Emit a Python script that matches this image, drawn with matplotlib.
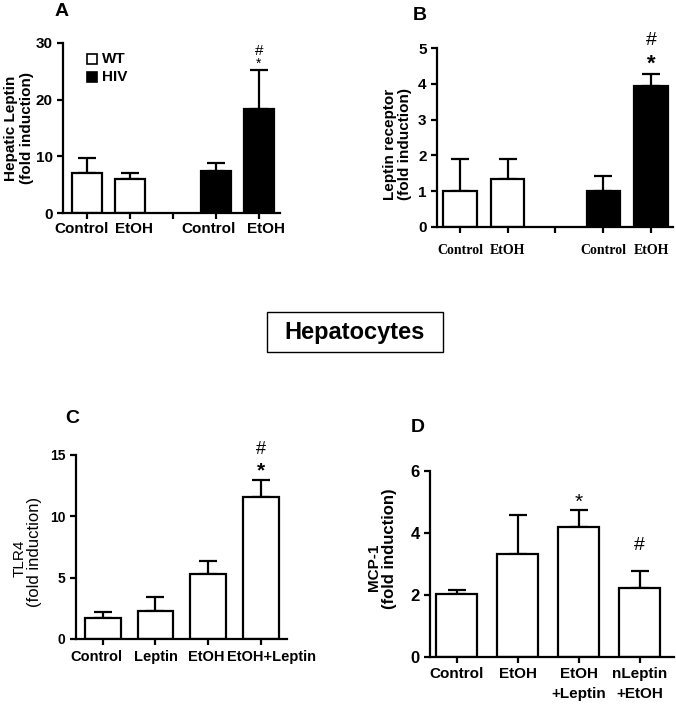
"""
Vier Balkendiagramme (A-D) mit Fehlerbalken, Leptin / Hepatozyten.
"""
import numpy as np
import matplotlib
matplotlib.use("Agg")
from matplotlib import pyplot as plt
from matplotlib.patches import Rectangle
from matplotlib.transforms import blended_transform_factory

plt.rcParams["font.family"] = ["Liberation Sans", "DejaVu Sans"]

# Panel A: Hepatic Leptin
a_labels = ["Control", "EtOH", "Control", "EtOH"]
a_wt_mean = [7.0, 6.0]
a_wt_sem = [2.65, 1.0]
a_hiv_mean = [7.5, 18.3]
a_hiv_sem = [1.3, 6.9]

# Panel B: Leptin receptor
b_labels = ["Control", "EtOH", "", "Control", "EtOH"]
b_wt_mean = [1.0, 1.33]
b_wt_sem = [0.9, 0.57]
b_hiv_mean = [1.0, 3.95]
b_hiv_sem = [0.42, 0.33]

# Panel C: TLR4
c_labels = ["Control", "Leptin", "EtOH", "EtOH+Leptin"]
c_mean = [1.68, 2.3, 5.29, 11.61]
c_sem = [0.52, 1.09, 1.03, 1.38]

# Panel D: MCP-1
d_labels = ["Control", "EtOH", "EtOH\n+Leptin", "nLeptin\n+EtOH"]
d_mean = [2.02, 3.31, 4.18, 2.24]
d_sem = [0.15, 1.27, 0.56, 0.54]

LW = 1.6
W, H = 676, 704


def px_ax(fig, x0, y_bot, x1, y_top):
    """Achse aus Pixelkoordinaten (y von oben gemessen)."""
    return fig.add_axes([x0 / W, (H - y_bot) / H, (x1 - x0) / W, (y_bot - y_top) / H])


def px_text(fig, xp, yp, txt, **kw):
    """Text an Pixelposition (Mitte) in der Abbildung."""
    return fig.text(xp / W, 1 - yp / H, txt, ha="center", va="center", **kw)


def style(ax, ylim, yticks, tsize):
    ax.set_ylim(*ylim)
    ax.set_yticks(yticks)
    for s in ["top", "right"]:
        ax.spines[s].set_visible(False)
    for s in ["left", "bottom"]:
        ax.spines[s].set_linewidth(LW)
    ax.tick_params(direction="out", length=4, width=LW, labelsize=tsize)
    for lab in ax.get_yticklabels():
        lab.set_fontweight("bold")


def bars(ax, pos, mean, sem, color, width):
    ax.bar(pos, mean, width, color=color, edgecolor="black", linewidth=LW, zorder=2)
    ax.errorbar(pos, mean, yerr=[np.zeros(len(sem)), sem], fmt="none",
                ecolor="black", elinewidth=LW, capsize=6.5, capthick=LW, zorder=1)


def xlabels(ax, xs, labels, y_off, **kw):
    """Kategoriebeschriftungen unter der x-Achse an freien Positionen."""
    trans = blended_transform_factory(ax.transData, ax.transAxes)
    for xv, lab in zip(xs, labels):
        ax.text(xv, y_off, lab, transform=trans, ha="center", va="top", **kw)


fig = plt.figure(figsize=(W / 100, H / 100), dpi=100)

# ---------------- A ----------------
ax_a = px_ax(fig, 63, 213, 280, 43)
bars(ax_a, [0, 1], a_wt_mean, a_wt_sem, "white", 0.7)
bars(ax_a, [3, 4], a_hiv_mean, a_hiv_sem, "black", 0.7)
ax_a.set_xlim(-0.56, 4.49)
style(ax_a, (0, 30), [0, 10, 20, 30], 11)
ax_a.set_xticks(range(5))
ax_a.set_xticklabels([""] * 5)
xlabels(ax_a, [-0.13, 1.09, 2.83, 4.16], a_labels, -0.055, fontsize=11,
        fontweight="bold")
px_text(fig, 11, 128, "Hepatic Leptin", rotation=90, fontsize=11, fontweight="bold")
px_text(fig, 27, 128, "(fold induction)", rotation=90, fontsize=11, fontweight="bold")
ax_a.text(4, 28.6, "#", ha="center", va="center", fontsize=11)
ax_a.text(4, 26.4, "*", ha="center", va="center", fontsize=10)
ax_a.add_patch(Rectangle((0.0, 26.3), 0.23, 1.8, facecolor="white", edgecolor="black",
                         linewidth=1.2, clip_on=False))
ax_a.add_patch(Rectangle((0.0, 23.1), 0.23, 1.8, facecolor="black", edgecolor="black",
                         linewidth=1.2, clip_on=False))
ax_a.text(0.35, 27.2, "WT", va="center", fontsize=11, fontweight="bold")
ax_a.text(0.35, 24.0, "HIV", va="center", fontsize=11, fontweight="bold")

# ---------------- B ----------------
ax_b = px_ax(fig, 437, 227, 673, 48)
bars(ax_b, [0, 1], b_wt_mean, b_wt_sem, "white", 0.7)
bars(ax_b, [3, 4], b_hiv_mean, b_hiv_sem, "black", 0.7)
ax_b.set_xlim(-0.48, 4.46)
style(ax_b, (0, 5), [0, 1, 2, 3, 4, 5], 11)
ax_b.set_xticks(range(5))
ax_b.set_xticklabels(b_labels, fontweight="bold", fontsize=10, family="Liberation Serif")
ax_b.tick_params(axis="x", pad=8)
px_text(fig, 390, 144, "Leptin receptor", rotation=90, fontsize=11, fontweight="bold")
px_text(fig, 405, 144, "(fold induction)", rotation=90, fontsize=11, fontweight="bold")
ax_b.text(4, 5.2, "#", ha="center", va="center", fontsize=14, clip_on=False)
ax_b.text(4, 4.55, "*", ha="center", va="center", fontsize=16, fontweight="bold")

# ---------------- C ----------------
ax_c = px_ax(fig, 76, 639, 287, 455)
bars(ax_c, range(4), c_mean, c_sem, "white", 0.68)
ax_c.set_xlim(-0.51, 3.5)
style(ax_c, (0, 15), [0, 5, 10, 15], 10)
ax_c.set_xticks(range(4))
ax_c.set_xticklabels([""] * 4)
xlabels(ax_c, [-0.13, 1.0, 1.96, 3.2], c_labels, -0.06, fontsize=10.5,
        fontweight="bold")
px_text(fig, 20, 558, "TLR4", rotation=90, fontsize=11)
px_text(fig, 35, 552, "(fold induction)", rotation=90, fontsize=12)
ax_c.text(3, 15.45, "#", ha="center", va="center", fontsize=13, clip_on=False)
ax_c.text(3, 13.7, "*", ha="center", va="center", fontsize=15, fontweight="bold")

# ---------------- D ----------------
ax_d = px_ax(fig, 430, 657, 674, 471)
bars(ax_d, range(4), d_mean, d_sem, "white", 0.67)
ax_d.set_xlim(-0.44, 3.56)
style(ax_d, (0, 6), [0, 2, 4, 6], 12)
ax_d.set_xticks(range(4))
ax_d.set_xticklabels(d_labels, fontweight="bold", fontsize=11, linespacing=1.5)
px_text(fig, 374, 567, "MCP-1", rotation=90, fontsize=11, fontweight="bold")
px_text(fig, 390, 549, "(fold induction)", rotation=90, fontsize=12,
        fontweight="bold")
ax_d.text(2, 5.0, "*", ha="center", va="center", fontsize=15)
ax_d.text(3, 3.61, "#", ha="center", va="center", fontsize=14)

# Buchstaben und Kasten
for lbl, xp, yp in [("A", 61.5, 11.5), ("B", 419.5, 15.5), ("C", 72.5, 418.5),
                    ("D", 417.5, 427.5)]:
    px_text(fig, xp, yp, lbl, fontsize=14, fontweight="bold")

fig.patches.append(Rectangle((267 / W, 1 - 352 / H), 176 / W, 40 / H,
                             transform=fig.transFigure, facecolor="white",
                             edgecolor="black", linewidth=1.0))
px_text(fig, 355, 332, "Hepatocytes", fontsize=17, fontweight="bold")

fig.savefig("out.png", dpi=100)
